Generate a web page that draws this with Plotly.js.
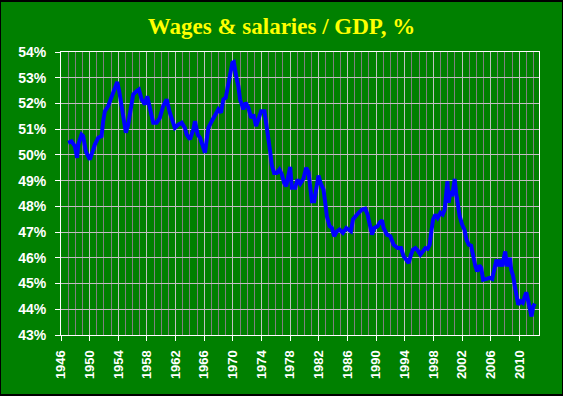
<!DOCTYPE html>
<html>
<head>
<meta charset="utf-8">
<script src="https://cdn.plot.ly/plotly-3.0.1.min.js"></script>
<style>
html, body { margin: 0; padding: 0; background: #000; }
#chart { width: 561px; height: 392px; border-style: solid; border-color: #000; border-width: 2px 1px 2px 1px; }
</style>
</head>
<body>
<div id="chart"></div>
<script>
const years = [1947.0,1947.47,1947.93,1948.25,1948.4,1948.87,1949.1,1949.47,1950.03,1950.26,1950.73,1951.2,1951.66,1951.89,1952.13,1952.59,1953.06,1953.52,1953.85,1954.13,1954.46,1954.78,1955.06,1955.38,1955.72,1956.08,1956.56,1956.88,1957.26,1957.72,1958.04,1958.42,1958.88,1959.35,1959.8,1960.27,1960.75,1961.2,1961.9,1962.38,1962.85,1963.3,1963.55,1964.01,1964.48,1964.71,1965.09,1965.41,1965.87,1966.11,1966.35,1966.58,1967.05,1967.51,1967.97,1968.35,1968.67,1969.0,1969.29,1969.6,1969.93,1970.13,1970.31,1970.55,1970.77,1971.0,1971.47,1971.8,1972.17,1972.55,1972.87,1973.24,1973.57,1973.94,1974.41,1974.6,1974.88,1975.2,1975.44,1975.76,1976.14,1976.5,1976.84,1977.16,1977.44,1977.76,1978.0,1978.24,1978.7,1979.02,1979.4,1979.86,1980.24,1980.56,1980.9,1981.03,1981.36,1981.64,1981.96,1982.29,1982.66,1982.9,1983.13,1983.5,1983.83,1984.15,1984.53,1984.89,1985.37,1985.83,1986.15,1986.49,1986.77,1987.09,1987.55,1988.03,1988.49,1988.81,1989.09,1989.43,1989.75,1990.21,1990.49,1990.83,1991.05,1991.52,1991.99,1992.45,1993.01,1993.48,1993.85,1994.22,1994.55,1994.88,1995.16,1995.48,1995.8,1996.18,1996.56,1996.88,1997.2,1997.48,1997.72,1997.96,1998.28,1998.6,1998.98,1999.3,1999.58,1999.82,1999.96,2000.14,2000.38,2000.62,2000.84,2000.98,2001.17,2001.4,2001.68,2002.01,2002.34,2002.62,2002.94,2003.27,2003.55,2003.87,2004.11,2004.43,2004.67,2004.95,2005.41,2005.87,2006.21,2006.53,2006.81,2007.05,2007.27,2007.61,2007.83,2008.03,2008.26,2008.46,2008.68,2008.87,2009.15,2009.38,2009.62,2009.85,2010.17,2010.49,2010.77,2010.97,2011.2,2011.43,2011.71,2011.95,2012.17];
const wagesShare = [50.47,50.53,50.34,49.89,50.4,50.79,50.73,50.14,49.82,50.02,50.4,50.67,50.73,51.31,51.7,51.9,52.22,52.61,52.84,52.48,51.96,51.5,50.86,51.18,51.77,52.35,52.48,52.54,52.16,51.96,52.28,51.77,51.25,51.25,51.44,51.9,52.16,51.64,51.05,51.18,51.25,51.05,50.79,50.6,50.99,51.31,50.79,50.67,50.34,50.08,50.6,51.05,51.31,51.57,51.77,51.64,52.16,52.22,52.67,53.19,53.58,53.61,53.19,52.93,52.67,52.16,51.77,52.03,51.83,51.44,51.57,51.12,51.38,51.7,51.7,51.38,50.73,50.15,49.6,49.3,49.3,49.43,49.24,48.91,48.78,49.24,49.53,48.72,48.72,49.04,48.88,49.08,49.5,49.33,48.53,48.2,48.2,48.6,49.2,48.88,48.65,48.14,47.61,47.23,47.16,46.84,47.03,47.1,46.97,47.16,47.1,47.03,47.49,47.61,47.75,47.88,47.91,47.68,47.23,46.9,47.16,47.23,47.36,47.46,47.16,46.9,46.84,46.51,46.38,46.38,46.06,45.93,45.8,46.12,46.32,46.38,46.29,46.12,46.25,46.38,46.35,46.51,47.03,47.49,47.68,47.55,47.75,47.68,47.88,48.65,48.98,48.14,48.59,48.39,48.85,49.07,48.53,48.0,47.61,47.29,47.1,46.71,46.51,46.47,46.06,45.67,45.47,45.7,45.61,45.15,45.18,45.22,45.18,45.54,45.93,45.67,45.93,45.67,46.06,46.25,45.67,45.86,46.0,45.54,45.28,44.89,44.44,44.18,44.31,44.25,44.5,44.66,44.37,44.05,43.72,44.11,44.22];
const xTickYears = [1946,1950,1954,1958,1962,1966,1970,1974,1978,1982,1986,1990,1994,1998,2002,2006,2010];
const yTickValues = [43,44,45,46,47,48,49,50,51,52,53,54];
const yTickLabels = yTickValues.map(v => v + '%');
const chartTitle = 'Wages &amp; salaries / GDP, %';

const trace = {
  x: years, y: wagesShare, type: 'scatter', mode: 'lines',
  line: { color: '#0000ff', width: 4 },
  hoverinfo: 'skip'
};

const tickFont = { family: 'Liberation Sans, Arial, sans-serif', color: '#ffffff', weight: 'bold' };

const layout = {
  width: 561, height: 392,
  paper_bgcolor: '#008000', plot_bgcolor: '#008000',
  margin: { l: 60, r: 23, t: 50, b: 59, pad: 0 },
  showlegend: false,
  title: {
    text: chartTitle,
    x: 0.5, xref: 'container', xanchor: 'center',
    y: 0.938, yref: 'container', yanchor: 'middle',
    font: { family: 'Liberation Serif, Times New Roman, serif', size: 23, color: '#ffff00', weight: 'bold' }
  },
  xaxis: {
    range: [1946, 2012.75],
    tickmode: 'array', tickvals: xTickYears, ticktext: xTickYears.map(String),
    tickangle: -90,
    ticks: 'outside', ticklen: 5, tickcolor: '#ffffff', tickwidth: 1,
    ticklabelstandoff: 4,
    tickfont: Object.assign({ size: 13 }, tickFont),
    showgrid: true, gridcolor: '#c0c0c0', gridwidth: 1,
    minor: { dtick: 1, tick0: 1946, showgrid: true, gridcolor: '#808080', gridwidth: 1, ticks: '' },
    showline: true, linecolor: '#ffffff', linewidth: 1, mirror: true,
    zeroline: false, fixedrange: true
  },
  yaxis: {
    range: [43, 54],
    tickmode: 'array', tickvals: yTickValues, ticktext: yTickLabels,
    ticks: 'outside', ticklen: 5, tickcolor: '#ffffff', tickwidth: 1,
    ticklabelstandoff: 6,
    tickfont: Object.assign({ size: 14 }, tickFont),
    showgrid: true, gridcolor: '#c0c0c0', gridwidth: 1,
    showline: true, linecolor: '#ffffff', linewidth: 1, mirror: true,
    zeroline: false, fixedrange: true
  }
};

Plotly.newPlot('chart', [trace], layout, { displayModeBar: false, staticPlot: true });
</script>
</body>
</html>
